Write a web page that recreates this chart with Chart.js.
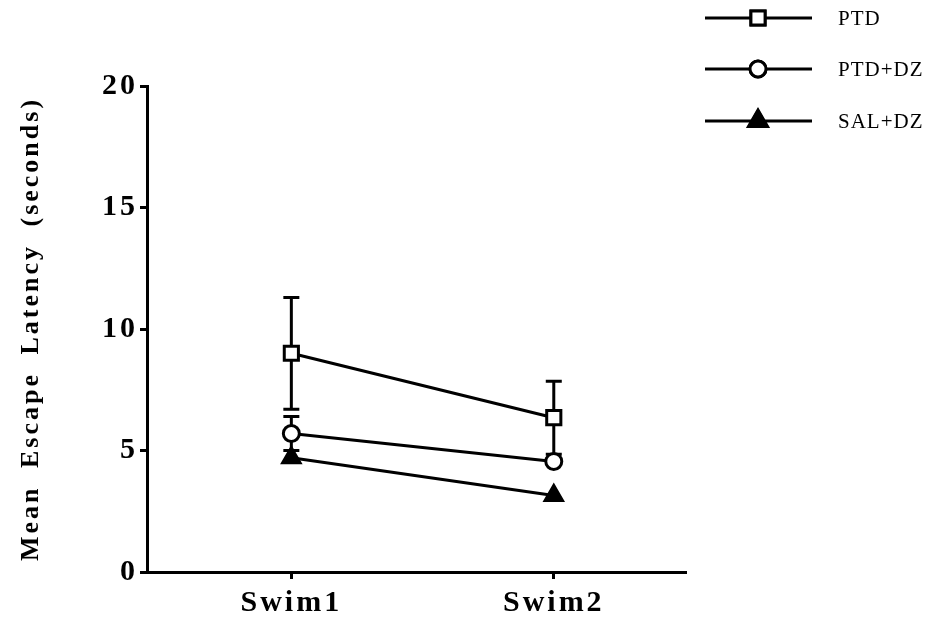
<!DOCTYPE html>
<html>
<head>
<meta charset="utf-8">
<script src="https://cdn.jsdelivr.net/npm/chart.js@4/dist/chart.umd.min.js"></script>
<style>
  html, body { margin: 0; padding: 0; background: #fff; }
  canvas { display: block; }
</style>
</head>
<body>
<canvas id="chart" width="934" height="622"></canvas>
<script>
// Sessions on the x axis and where each sits on the linear scale
const sessions = ['Swim1', 'Swim2'];
const sessionPos = [1, 2];

// Group names
const groupNames = ['PTD', 'PTD+DZ', 'SAL+DZ'];

// Mean escape latency (s) and SEM per session
const ptdMean = [9.0, 6.35];
const ptdSem = [2.3, 1.5];
const ptdDzMean = [5.7, 4.55];
const ptdDzSem = [0.7, 0.25];
const salDzMean = [4.7, 3.15];
const salDzSem = [0.3, 0.2];

// Y axis ticks
const yTicks = [0, 5, 10, 15, 20];

const SERIF = '"Liberation Serif", "Times New Roman", serif';

function toPoints(means) {
  return means.map((m, i) => ({ x: sessionPos[i], y: m }));
}

// Letter-spaced bold serif used for the axis text
function setSpacing(ctx) {
  ctx.letterSpacing = '3px';
  ctx.wordSpacing = '8px';
}
const spacingPlugin = {
  id: 'spacing',
  beforeUpdate(chart) { setSpacing(chart.ctx); },
  beforeDraw(chart) { setSpacing(chart.ctx); }
};

// Vertical SEM whiskers with caps, drawn under the markers.
// A whisker shorter than the symbol stays hidden inside it.
const errorBarPlugin = {
  id: 'errorBars',
  beforeDatasetsDraw(chart) {
    const ctx = chart.ctx;
    const xs = chart.scales.x, ys = chart.scales.y;
    ctx.save();
    ctx.strokeStyle = '#000';
    ctx.lineWidth = 3;
    chart.data.datasets.forEach(ds => {
      ds.data.forEach((p, i) => {
        const e = ds.sem[i];
        const px = xs.getPixelForValue(p.x);
        const py = ys.getPixelForValue(p.y);
        const yTop = ys.getPixelForValue(p.y + e);
        const yBot = ys.getPixelForValue(p.y - e);
        if (py - yTop <= ds.pointRadius) return;
        ctx.beginPath();
        ctx.moveTo(px, yTop); ctx.lineTo(px, yBot);
        ctx.moveTo(px - 8, yTop); ctx.lineTo(px + 8, yTop);
        ctx.moveTo(px - 8, yBot); ctx.lineTo(px + 8, yBot);
        ctx.stroke();
      });
    });
    ctx.restore();
  }
};

// Legend: long line sample with the marker in its middle, label on the right
const legendPlugin = {
  id: 'sideLegend',
  afterDraw(chart) {
    const ctx = chart.ctx;
    const rows = [18, 69, 121];
    ctx.save();
    ctx.letterSpacing = '1px';
    ctx.wordSpacing = '0px';
    chart.data.datasets.forEach((ds, i) => {
      const y = rows[i];
      ctx.strokeStyle = '#000';
      ctx.lineWidth = 3;
      ctx.beginPath();
      ctx.moveTo(705, y); ctx.lineTo(812, y);
      ctx.stroke();
      Chart.helpers.drawPoint(ctx, {
        pointStyle: ds.pointStyle,
        radius: ds.pointRadius,
        rotation: 0,
        borderWidth: ds.pointBorderWidth
      }, 758, y);
      ctx.fillStyle = ds.pointBackgroundColor;
      ctx.strokeStyle = '#000';
      ctx.lineWidth = ds.pointBorderWidth;
      ctx.fill();
      ctx.stroke();
      ctx.fillStyle = '#000';
      ctx.font = '21px ' + SERIF;
      ctx.textBaseline = 'middle';
      ctx.textAlign = 'left';
      ctx.fillText(ds.label, 838, y + 1);
    });
    ctx.restore();
  }
};

const axisFont = { family: SERIF, weight: 'bold', size: 30 };

new Chart(document.getElementById('chart'), {
  type: 'line',
  data: {
    datasets: [
      {
        label: groupNames[0], data: toPoints(ptdMean), sem: ptdSem,
        pointStyle: 'rect', pointRadius: 10, pointBorderWidth: 3,
        pointBackgroundColor: '#fff'
      },
      {
        label: groupNames[1], data: toPoints(ptdDzMean), sem: ptdDzSem,
        pointStyle: 'circle', pointRadius: 8, pointBorderWidth: 3,
        pointBackgroundColor: '#fff'
      },
      {
        label: groupNames[2], data: toPoints(salDzMean), sem: salDzSem,
        pointStyle: 'triangle', pointRadius: 11, pointBorderWidth: 2,
        pointBackgroundColor: '#000'
      }
    ].map(ds => Object.assign({
      borderColor: '#000', borderWidth: 3, pointBorderColor: '#000',
      pointHoverRadius: ds.pointRadius, tension: 0, fill: false
    }, ds))
  },
  options: {
    responsive: false,
    animation: false,
    events: [],
    layout: { padding: { top: 86, right: 249, bottom: 0, left: 0 } },
    plugins: { legend: { display: false }, tooltip: { enabled: false } },
    scales: {
      x: {
        type: 'linear', min: 0.45, max: 2.5,
        afterBuildTicks: s => { s.ticks = sessionPos.map(v => ({ value: v })); },
        afterFit: s => { s.height = 50; },
        ticks: {
          callback: v => sessions[sessionPos.indexOf(v)],
          font: axisFont, color: '#000', padding: 6,
          maxRotation: 0, autoSkip: false
        },
        grid: { drawOnChartArea: false, drawTicks: true, tickLength: 7, color: '#000', lineWidth: 3 },
        border: { display: true, color: '#000', width: 3 }
      },
      y: {
        min: 0, max: 20,
        afterBuildTicks: s => { s.ticks = yTicks.map(v => ({ value: v })); },
        afterFit: s => { s.width = 147; },
        ticks: { font: axisFont, color: '#000', padding: 2 },
        grid: { drawOnChartArea: false, drawTicks: true, tickLength: 7, color: '#000', lineWidth: 3 },
        border: { display: true, color: '#000', width: 3 },
        title: {
          display: true, text: 'Mean Escape Latency (seconds)',
          font: { family: SERIF, weight: 'bold', size: 26 }, color: '#000',
          padding: { top: 16, bottom: 0 }
        }
      }
    }
  },
  plugins: [spacingPlugin, errorBarPlugin, legendPlugin]
});
</script>
</body>
</html>
